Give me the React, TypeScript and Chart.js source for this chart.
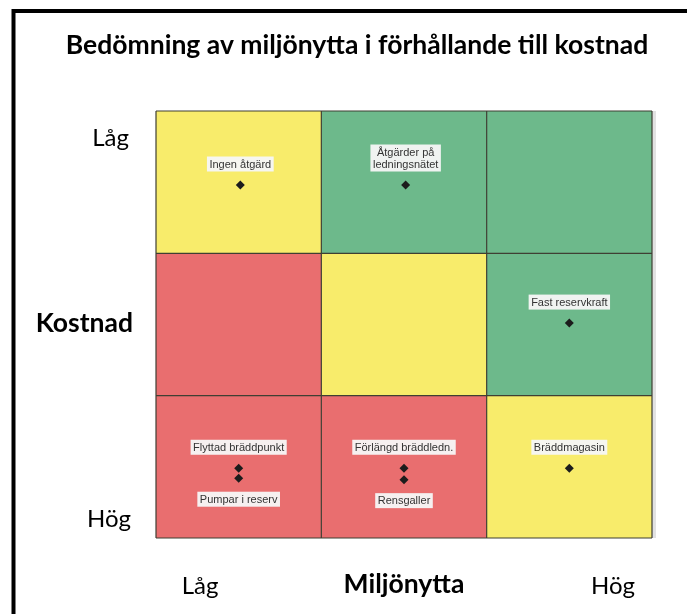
import { useEffect, useRef } from 'react';
import { Chart, registerables } from 'chart.js';

Chart.register(...registerables);

const TITLE = 'Bedömning av miljönytta i förhållande till kostnad';
const X_TITLE = 'Miljönytta';
const Y_TITLE = 'Kostnad';
const LOW = 'Låg';
const HIGH = 'Hög';

// Measures placed in the matrix
const measureNames = [
  'Ingen åtgärd',
  'Åtgärder på\nledningsnätet',
  'Fast reservkraft',
  'Flyttad bräddpunkt',
  'Pumpar i reserv',
  'Förlängd bräddledn.',
  'Rensgaller',
  'Bräddmagasin',
];
// Miljönytta (0 = låg, 3 = hög)
const miljonytta = [0.51, 1.51, 2.5, 0.5, 0.5, 1.5, 1.5, 2.5];
// Kostnad (0 = låg, 3 = hög)
const kostnad = [0.52, 0.52, 1.49, 2.51, 2.58, 2.51, 2.59, 2.51];
const labelSide = ['above', 'above', 'above', 'above', 'below', 'above', 'below', 'above'];

// Cell ratings: rows = kostnad (låg -> hög), columns = miljönytta (låg -> hög)
const cellRatings = [
  ['yellow', 'green', 'green'],
  ['red', 'yellow', 'green'],
  ['red', 'red', 'yellow'],
];
const palette: Record<string, string> = {
  yellow: '#f8ec6b',
  green: '#6db98b',
  red: '#e96e6f',
};

const FONT = 'Lato, "Open Sans", sans-serif';

export default function App() {
  const ref = useRef<HTMLCanvasElement | null>(null);

  useEffect(() => {
    if (!ref.current) return;

    const matrixPlugin = {
      id: 'matrix',
      beforeDatasetsDraw(chart: any) {
        const { ctx } = chart;
        const xs = chart.scales.x;
        const ys = chart.scales.y;
        ctx.save();
        // scan shadow at right edge
        ctx.fillStyle = '#e2e2e2';
        ctx.fillRect(xs.getPixelForValue(3), ys.getPixelForValue(0), 4, ys.getPixelForValue(3) - ys.getPixelForValue(0));
        for (let r = 0; r < 3; r++) {
          for (let c = 0; c < 3; c++) {
            const x0 = xs.getPixelForValue(c);
            const x1 = xs.getPixelForValue(c + 1);
            const y0 = ys.getPixelForValue(r);
            const y1 = ys.getPixelForValue(r + 1);
            ctx.fillStyle = palette[cellRatings[r][c]];
            ctx.fillRect(x0, y0, x1 - x0, y1 - y0);
          }
        }
        ctx.strokeStyle = '#3f3f33';
        ctx.lineWidth = 1.2;
        for (let i = 0; i <= 3; i++) {
          const x = xs.getPixelForValue(i);
          ctx.beginPath();
          ctx.moveTo(x, ys.getPixelForValue(0));
          ctx.lineTo(x, ys.getPixelForValue(3));
          ctx.stroke();
          const y = ys.getPixelForValue(i);
          ctx.beginPath();
          ctx.moveTo(xs.getPixelForValue(0), y);
          ctx.lineTo(xs.getPixelForValue(3), y);
          ctx.stroke();
        }
        ctx.restore();
      },
      afterDatasetsDraw(chart: any) {
        const { ctx } = chart;
        const meta = chart.getDatasetMeta(0);
        ctx.save();
        ctx.font = '11px "Liberation Sans", Arial, sans-serif';
        ctx.textAlign = 'center';
        ctx.textBaseline = 'middle';
        measureNames.forEach((name, i) => {
          const pt = meta.data[i];
          const lines = name.split('\n');
          const lh = 12;
          const w = Math.max(...lines.map((l) => ctx.measureText(l).width)) + 5;
          const h = lines.length * lh + 3;
          let lastCenter: number;
          if (labelSide[i] === 'above') {
            lastCenter = pt.y - 21;
          } else {
            lastCenter = pt.y + 21 + (lines.length - 1) * lh;
          }
          const firstCenter = lastCenter - (lines.length - 1) * lh;
          ctx.fillStyle = 'rgba(246,246,246,0.96)';
          ctx.fillRect(pt.x - w / 2, firstCenter - lh / 2 - 1.5, w, h);
          ctx.fillStyle = '#333';
          lines.forEach((l, k) => ctx.fillText(l, pt.x, firstCenter + k * lh + 0.5));
        });
        ctx.restore();
      },
      afterDraw(chart: any) {
        const { ctx } = chart;
        const xs = chart.scales.x;
        ctx.save();
        // frame
        ctx.strokeStyle = '#000';
        ctx.lineWidth = 4;
        ctx.beginPath();
        ctx.moveTo(13.5, 700);
        ctx.lineTo(13.5, 11);
        ctx.lineTo(700, 11);
        ctx.stroke();
        ctx.fillStyle = '#000';
        ctx.textBaseline = 'middle';
        // title
        ctx.font = `bold 26.5px ${FONT}`;
        ctx.textAlign = 'center';
        ctx.fillText(TITLE, 357, 45);
        // y labels
        ctx.textAlign = 'right';
        ctx.font = `24px ${FONT}`;
        ctx.fillText(LOW, 129, 138);
        ctx.fillText(HIGH, 131, 519);
        ctx.font = `bold 26.5px ${FONT}`;
        ctx.fillText(Y_TITLE, 133, 323);
        // x labels
        ctx.textAlign = 'center';
        ctx.font = `24px ${FONT}`;
        ctx.fillText(LOW, 200, 586);
        ctx.fillText(HIGH, 613, 586);
        ctx.font = `bold 26.5px ${FONT}`;
        ctx.fillText(X_TITLE, xs.getPixelForValue(1.5), 584);
        ctx.restore();
      },
    };

    const chart = new Chart(ref.current, {
      type: 'scatter',
      data: {
        datasets: [
          {
            label: 'Åtgärder',
            data: miljonytta.map((x, i) => ({ x, y: kostnad[i] })),
            pointStyle: 'rectRot',
            pointRadius: 4.5,
            backgroundColor: '#1c1c1c',
            borderColor: '#1c1c1c',
            borderWidth: 0,
          },
        ],
      },
      options: {
        animation: false,
        responsive: false,
        devicePixelRatio: 1,
        layout: { padding: { left: 156, top: 111, right: 35, bottom: 76 } },
        plugins: {
          legend: { display: false },
          tooltip: { enabled: false },
          title: { display: false },
        },
        scales: {
          x: { type: 'linear', min: 0, max: 3, display: false },
          y: { type: 'linear', min: 0, max: 3, reverse: true, display: false },
        },
      },
      plugins: [matrixPlugin],
    });
    return () => chart.destroy();
  }, []);

  return (
    <div style={{ position: 'fixed', left: 0, top: 0, width: 687, height: 614, background: '#fff' }}>
      <canvas ref={ref} width={687} height={614} style={{ display: 'block' }} />
    </div>
  );
}
